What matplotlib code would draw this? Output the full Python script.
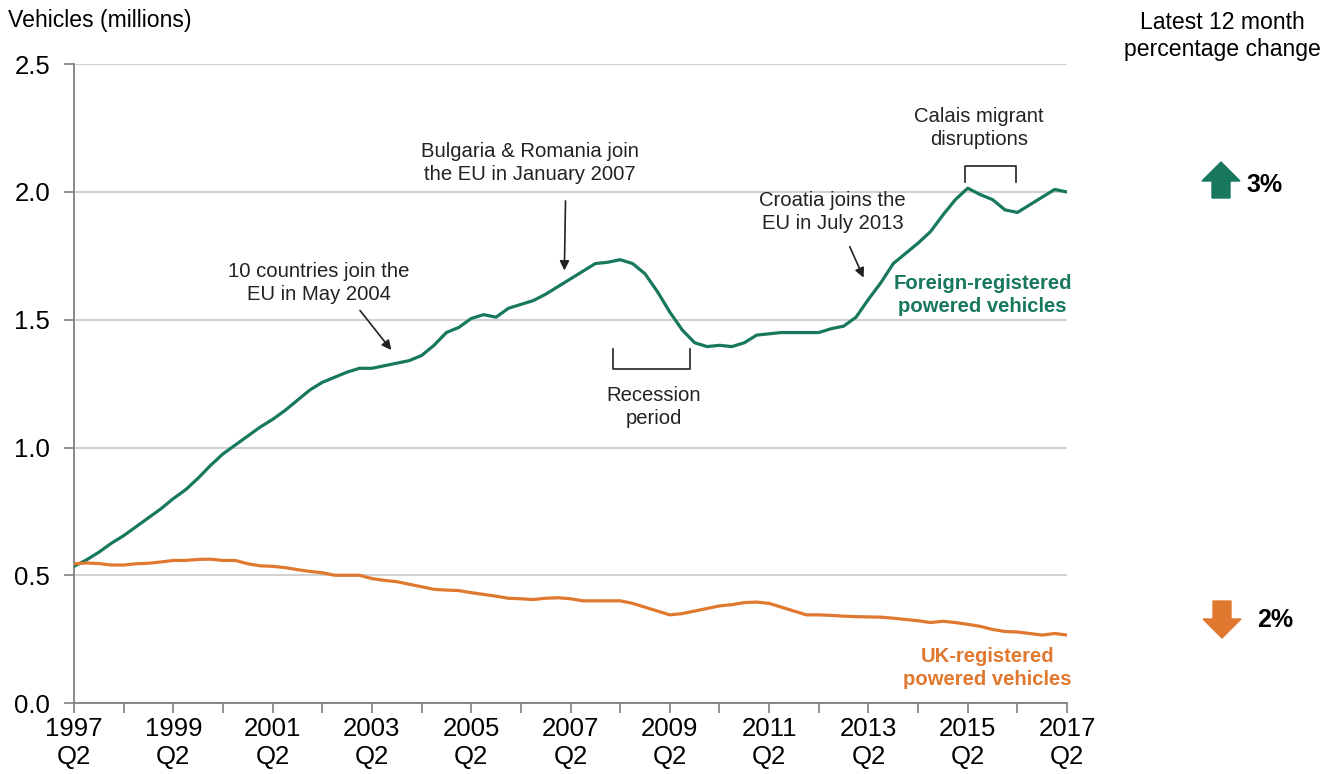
import matplotlib.pyplot as plt
from matplotlib.patches import Polygon

plt.rcParams['font.family'] = ['Liberation Sans', 'DejaVu Sans']

GREEN = "#17785e"
ORANGE = "#e0782f"

# quarterly values, 1997 Q2 .. 2017 Q2 (millions)
foreign = [0.535, 0.56, 0.59, 0.625, 0.655, 0.69, 0.725, 0.76, 0.80, 0.835,
           0.88, 0.93, 0.975, 1.01, 1.045, 1.08, 1.11, 1.145, 1.185, 1.225,
           1.255, 1.275, 1.295, 1.31, 1.31, 1.32, 1.33, 1.34, 1.36, 1.40,
           1.45, 1.47, 1.505, 1.52, 1.51, 1.545, 1.56, 1.575, 1.60, 1.63,
           1.66, 1.69, 1.72, 1.725, 1.735, 1.72, 1.68, 1.61, 1.53, 1.46,
           1.41, 1.395, 1.40, 1.395, 1.41, 1.44, 1.445, 1.45, 1.45, 1.45,
           1.45, 1.465, 1.475, 1.51, 1.58, 1.645, 1.72, 1.76, 1.80, 1.845,
           1.91, 1.97, 2.015, 1.99, 1.97, 1.93, 1.92, 1.95, 1.98, 2.01, 2.00]
uk = [0.545, 0.548, 0.546, 0.54, 0.54, 0.545, 0.547, 0.552, 0.558, 0.558,
      0.562, 0.563, 0.558, 0.558, 0.545, 0.537, 0.535, 0.53, 0.522, 0.515,
      0.51, 0.50, 0.50, 0.50, 0.487, 0.48, 0.475, 0.465, 0.455, 0.445,
      0.442, 0.44, 0.432, 0.425, 0.418, 0.41, 0.408, 0.405, 0.41, 0.412,
      0.408, 0.40, 0.40, 0.40, 0.40, 0.39, 0.375, 0.36, 0.345, 0.35,
      0.36, 0.37, 0.38, 0.385, 0.393, 0.395, 0.39, 0.375, 0.36, 0.345,
      0.345, 0.343, 0.34, 0.338, 0.337, 0.336, 0.332, 0.327, 0.322, 0.315,
      0.32, 0.315, 0.308, 0.30, 0.288, 0.28, 0.278, 0.272, 0.266, 0.272, 0.266]
years = list(range(1997, 2018, 2))
tick_labels = [f"{y}\nQ2" for y in years]
changes = ["3%", "2%"]

q = list(range(len(foreign)))

fig = plt.figure(figsize=(13.33, 7.74), dpi=100)
ax = fig.add_axes([0.0555, 0.0917, 0.745, 0.8253])

ax.plot(q, foreign, color=GREEN, lw=2.3, zorder=3)
ax.plot(q, uk, color=ORANGE, lw=2.3, zorder=3)

ax.set_xlim(0, 80)
ax.set_ylim(0, 2.5)
ax.set_yticks([0, 0.5, 1.0, 1.5, 2.0, 2.5])
ax.set_yticklabels(["0.0", "0.5", "1.0", "1.5", "2.0", "2.5"])
ax.set_xticks(range(0, 81, 8))
ax.set_xticklabels(tick_labels)
ax.set_xticks(range(0, 81, 4), minor=True)
ax.grid(axis='y', color='#c8c8c8', lw=1.2, zorder=0)
for s in ['top', 'right']:
    ax.spines[s].set_visible(False)
for s in ['left', 'bottom']:
    ax.spines[s].set_color('#808080')
    ax.spines[s].set_linewidth(1.3)
ax.tick_params(axis='both', which='both', colors='#808080', labelcolor='black',
               labelsize=18.5, length=7, width=1.2)
ax.tick_params(axis='x', pad=3)
ax.tick_params(axis='y', pad=10)

txt = dict(fontsize=14.6, ha='center', va='center', color='#222222')
arrow = dict(arrowstyle='-|>', color='#222222', lw=1.2, mutation_scale=14)

ax.text(19.7, 1.643, "10 countries join the\nEU in May 2004", linespacing=1.3, **txt)
ax.annotate("", xy=(25.7, 1.373), xytext=(22.9, 1.545), arrowprops=arrow)

ax.text(36.7, 2.113, "Bulgaria & Romania join\nthe EU in January 2007", linespacing=1.3, **txt)
ax.annotate("", xy=(39.5, 1.682), xytext=(39.6, 1.976), arrowprops=arrow)

ax.text(61.1, 1.921, "Croatia joins the\nEU in July 2013", linespacing=1.3, **txt)
ax.annotate("", xy=(63.7, 1.655), xytext=(62.4, 1.796), arrowprops=arrow)

ax.text(72.9, 2.25, "Calais migrant\ndisruptions", linespacing=1.3, **txt)
ax.plot([71.8, 71.8, 75.9, 75.9], [2.038, 2.101, 2.101, 2.038], color='#222222', lw=1.2, clip_on=False)

ax.text(46.7, 1.158, "Recession\nperiod", linespacing=1.3, **txt)
ax.plot([43.4, 43.4, 49.6, 49.6], [1.385, 1.307, 1.307, 1.385], color='#222222', lw=1.2)

ax.text(73.2, 1.596, "Foreign-registered\npowered vehicles", fontsize=14.6, fontweight='bold',
        color=GREEN, ha='center', va='center', linespacing=1.25)
ax.text(73.6, 0.137, "UK-registered\npowered vehicles", fontsize=14.6, fontweight='bold',
        color=ORANGE, ha='center', va='center', linespacing=1.25)

W, H = 1333, 774
def fpt(px, py):
    return (px / W, 1 - py / H)

fig.text(*fpt(8, 20), "Vehicles (millions)", fontsize=16.6, ha='left', va='center')
fig.text(*fpt(1222, 36), "Latest 12 month\npercentage change", fontsize=16.6,
         ha='center', va='center', linespacing=1.25)

up = [(1221, 162), (1240, 181), (1230, 181), (1230, 198), (1212, 198), (1212, 181), (1202, 181)]
down = [(1222, 638), (1241, 619), (1231, 619), (1231, 601), (1213, 601), (1213, 619), (1203, 619)]
fig.patches.append(Polygon([fpt(*p) for p in up], closed=True, color=GREEN, transform=fig.transFigure))
fig.patches.append(Polygon([fpt(*p) for p in down], closed=True, color=ORANGE, transform=fig.transFigure))
fig.text(*fpt(1265, 185), changes[0], fontsize=18, fontweight='bold', ha='center', va='center')
fig.text(*fpt(1275, 620), changes[1], fontsize=18, fontweight='bold', ha='center', va='center')

fig.savefig("out.png", dpi=100)
